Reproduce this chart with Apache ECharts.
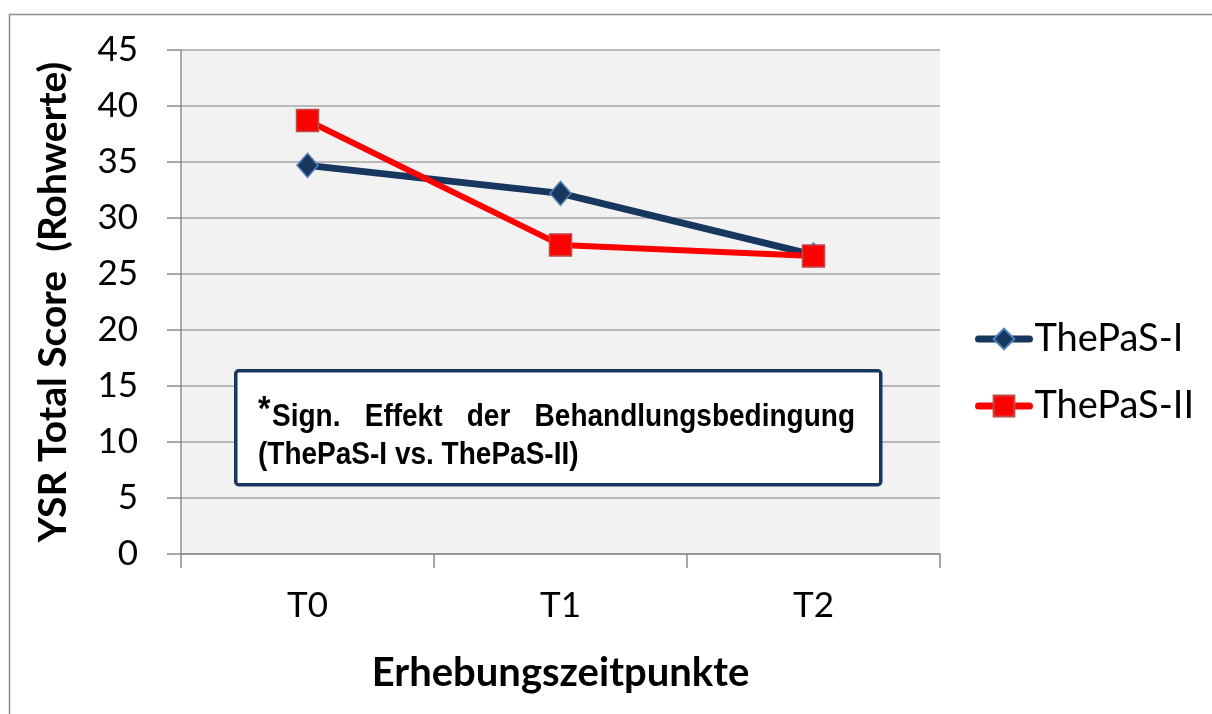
<!DOCTYPE html>
<html>
<head>
    <meta charset="utf-8">
    <title>YSR Total Score</title>
    <script src="https://cdn.jsdelivr.net/npm/echarts@6/dist/echarts.min.js"></script>
    <style>
        html, body { margin: 0; padding: 0; background: #fff; }
        #main { width: 1212px; height: 714px; }
    </style>
</head>
<body>
    <div id="main"></div>
    <script>
        // data
        var timepoints = ['T0', 'T1', 'T2'];
        var seriesNames = ['ThePaS-I', 'ThePaS-II'];
        var thepas1 = [34.7, 32.2, 26.7];
        var thepas2 = [38.7, 27.6, 26.6];
        var yTicks = { min: 0, max: 45, interval: 5 };

        var noteLine1 = ['Sign.', 'Effekt', 'der', 'Behandlungsbedingung'];
        var noteLine2 = '(ThePaS-I vs. ThePaS-II)';

        var tickFont = 'Lato';
        var noteFont = "'Liberation Sans', Arial";
        var noteSize = 28;

        // justify the first line of the note box by hand (word widths from canvas)
        function justify(words, left, right, font) {
            var ctx = document.createElement('canvas').getContext('2d');
            ctx.font = font;
            var widths = words.map(w => ctx.measureText(w).width);
            var total = widths.reduce((a, b) => a + b, 0);
            var gap = (right - left - total) / (words.length - 1);
            var x = left, out = [];
            words.forEach((w, i) => {
                out.push({ text: w, x: x });
                x += widths[i] + gap;
            });
            return out;
        }

        // text a bit taller than wide, like the original box
        function noteText(text, x, y, size) {
            return {
                type: 'text', x: x, y: y, scaleY: 1.1, z: 102, silent: true,
                style: {
                    text: text, font: 'bold ' + size + 'px ' + noteFont, fill: '#000',
                    x: 0, y: 0, align: 'left', verticalAlign: 'middle'
                }
            };
        }

        var line1 = justify(noteLine1, 272, 855, 'bold ' + noteSize + 'px ' + noteFont);
        var noteTexts = line1.map(w => noteText(w.text, w.x, 418, noteSize));
        noteTexts.push(noteText('*', 258, 410, 32));
        noteTexts.push(noteText(noteLine2, 258, 456, noteSize));

        var chart = echarts.init(document.getElementById('main'));
        var option = {
            animation: false,
            backgroundColor: '#ffffff',
            grid: {
                left: 181, right: 272, top: 50, bottom: 160,
                show: true, backgroundColor: '#f2f2f2', borderWidth: 0
            },
            legend: {
                orient: 'vertical',
                left: 970, top: 315,
                itemWidth: 51, itemHeight: 26, itemGap: 29,
                lineStyle: { width: 7, cap: 'round' },
                textStyle: { fontFamily: tickFont, fontSize: 38, color: '#000' },
                data: seriesNames
            },
            xAxis: {
                type: 'category',
                data: timepoints,
                boundaryGap: true,
                name: 'Erhebungszeitpunkte',
                nameLocation: 'middle',
                nameGap: 99,
                nameTextStyle: { fontFamily: tickFont, fontWeight: 'bold', fontSize: 40, color: '#000' },
                axisLine: { lineStyle: { color: '#8c8c8c', width: 1.5 } },
                axisTick: { show: true, length: 14, inside: false, lineStyle: { color: '#8c8c8c', width: 1.5 } },
                axisLabel: { fontFamily: tickFont, fontSize: 35, color: '#000', margin: 34 },
                splitLine: { show: false }
            },
            yAxis: {
                type: 'value',
                min: yTicks.min, max: yTicks.max, interval: yTicks.interval,
                name: 'YSR Total Score  (Rohwerte)',
                nameLocation: 'middle',
                nameGap: 108,
                nameTextStyle: { fontFamily: tickFont, fontWeight: 'bold', fontSize: 39, color: '#000' },
                axisLine: { show: true, lineStyle: { color: '#8c8c8c', width: 1.5 } },
                axisTick: { show: true, length: 14, inside: false, lineStyle: { color: '#8c8c8c', width: 1.5 } },
                axisLabel: { fontFamily: tickFont, fontSize: 35, color: '#000', margin: 43 },
                splitLine: { show: true, lineStyle: { color: '#a6a6a6', width: 1.5 } }
            },
            series: [
                {
                    name: seriesNames[0],
                    type: 'line',
                    data: thepas1,
                    symbol: 'diamond',
                    symbolSize: [21, 24],
                    lineStyle: { color: '#17375e', width: 7 },
                    itemStyle: { color: '#17375e', borderColor: '#4f81bd', borderWidth: 1.5 },
                    z: 3
                },
                {
                    name: seriesNames[1],
                    type: 'line',
                    data: thepas2,
                    symbol: 'rect',
                    symbolSize: 22,
                    lineStyle: { color: '#ff0000', width: 6 },
                    itemStyle: { color: '#ff0000', borderColor: '#be4b48', borderWidth: 1.5 },
                    z: 4
                }
            ],
            graphic: [
                // outer chart frame, only top and left edges are inside the picture
                {
                    type: 'rect', left: 7, top: 12, z: 0, silent: true,
                    shape: { width: 1220, height: 730 },
                    style: { fill: 'none', stroke: '#8c8c8c', lineWidth: 1.5 }
                },
                // annotation box
                {
                    type: 'rect', left: 234, top: 369, z: 101, silent: true,
                    shape: { width: 645, height: 114, r: 3 },
                    style: { fill: '#ffffff', stroke: '#17375e', lineWidth: 3.5 }
                }
            ].concat(noteTexts)
        };
        chart.setOption(option);
    </script>
</body>
</html>
